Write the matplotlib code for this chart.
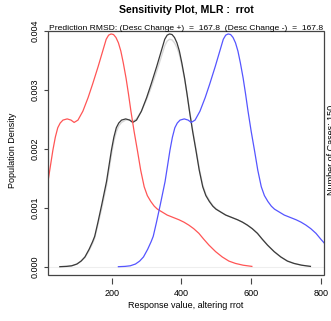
import matplotlib
matplotlib.use("Agg")
import matplotlib.pyplot as plt
from matplotlib.patches import Rectangle

plt.rcParams['font.family'] = ['Liberation Sans', 'DejaVu Sans']

# Response values (x) and population density for each curve
base_x = [51, 70, 85, 100, 112, 123, 135, 145, 151,
          160, 171, 185, 199, 206, 213, 220, 228, 240, 251, 260,
          271, 285, 300, 313, 329, 342, 352, 359, 366, 373,
          380, 387, 394, 401, 409, 416, 423, 432, 442, 451,
          461, 470, 480, 490, 499, 513, 527, 544, 561, 575,
          589, 603, 618, 632, 647, 666, 685, 704, 723, 745, 770]
base_y = [0.000005, 0.00001, 0.00002, 0.00005, 0.00010, 0.00017, 0.00030, 0.00043, 0.00052,
          0.00075, 0.00105, 0.00145, 0.00198, 0.00220, 0.00236, 0.00244, 0.00249, 0.00251, 0.00249, 0.00245,
          0.00249, 0.00264, 0.00287, 0.00310, 0.00340, 0.00366, 0.00386, 0.00393, 0.00395, 0.00394,
          0.00389, 0.00380, 0.00366, 0.00346, 0.00320, 0.00293, 0.00264, 0.00230, 0.00196, 0.00164,
          0.00136, 0.00121, 0.00111, 0.00103, 0.00098, 0.00093, 0.00088, 0.00084, 0.00080, 0.00076,
          0.00071, 0.00065, 0.00057, 0.00047, 0.00037, 0.00026, 0.00017, 0.00010, 0.00006, 0.00003, 0.00001]

orig_x = base_x
orig_y = [0.000005, 0.00001, 0.00002, 0.00005, 0.00010, 0.00016, 0.00028, 0.00040, 0.00049,
          0.00071, 0.00099, 0.00138, 0.00190, 0.00213, 0.00229, 0.00239, 0.00245, 0.00249, 0.00250, 0.00247,
          0.00251, 0.00264, 0.00284, 0.00304, 0.00332, 0.00356, 0.00375, 0.00383, 0.00386, 0.00385,
          0.00380, 0.00372, 0.00360, 0.00342, 0.00318, 0.00293, 0.00266, 0.00233, 0.00199, 0.00167,
          0.00139, 0.00123, 0.00113, 0.00104, 0.00099, 0.00093, 0.00088, 0.00084, 0.00080, 0.00076,
          0.00071, 0.00065, 0.00057, 0.00047, 0.00037, 0.00026, 0.00017, 0.00010, 0.00006, 0.00003, 0.00001]

minus_x = [-117, -98, -83, -68, -56, -45, -33, -23, -17,
           -8, 3, 17, 31, 38, 45, 52, 60, 72, 83, 92,
           103, 117, 132, 145, 161, 174, 184, 191, 198, 205,
           212, 219, 226, 233, 241, 248, 255, 264, 274, 283,
           293, 302, 312, 322, 331, 345, 359, 376, 393, 407,
           421, 435, 450, 464, 479, 498, 517, 536, 555, 577, 602]
minus_y = base_y

plus_x = [219, 238, 253, 268, 280, 291, 303, 313, 319,
          328, 339, 353, 367, 374, 381, 388, 396, 408, 419, 428,
          439, 453, 468, 481, 497, 510, 520, 527, 534, 541,
          548, 555, 562, 569, 577, 584, 591, 600, 610, 619,
          629, 638, 648, 658, 667, 681, 695, 712, 729, 743,
          757, 771, 786, 800, 815, 834, 853, 872, 891, 913, 938]
plus_y = base_y

xticks = [200, 400, 600, 800]
yticks = [0.000, 0.001, 0.002, 0.003, 0.004]
ytick_labels = ["0.000", "0.001", "0.002", "0.003", "0.004"]

W, H = 331, 321
fig = plt.figure(figsize=(W / 100, H / 100), dpi=100)
ax = fig.add_axes([48 / W, 1 - 275 / H, (324 - 48) / W, (275 - 31) / H])

ax.axhline(0, color='#eeeeee', lw=0.8, zorder=1)
ax.plot(orig_x, orig_y, color='#d8d8d8', lw=1.0, zorder=2)
ax.plot(base_x, base_y, color='#3a3a3a', lw=0.9, zorder=3)
ax.plot(minus_x, minus_y, color='#ff5555', lw=0.9, zorder=3)
ax.plot(plus_x, plus_y, color='#5555ff', lw=0.9, zorder=3)

ax.set_xlim(17, 809)
ax.set_ylim(-0.000136, 0.004)

for s in ax.spines.values():
    s.set_visible(False)
ax.spines['bottom'].set_position(('outward', 2))
ax.add_patch(Rectangle((0, 0), 1, 1, transform=ax.transAxes, fill=False,
                       edgecolor='#444444', lw=0.9, clip_on=False, zorder=5))

ax.set_xticks(xticks)
ax.set_xticklabels([str(t) for t in xticks])
ax.set_yticks(yticks)
ax.set_yticklabels(ytick_labels, rotation=90, va='center')
ax.tick_params(axis='x', direction='out', length=4, width=0.8, color='#444444',
               labelsize=6.5, pad=4)
ax.tick_params(axis='y', direction='out', length=3, width=0.8, color='#444444',
               labelsize=6.5, pad=3)

fig.text(186 / W, 1 - 10 / H, "Sensitivity Plot, MLR :  rrot", ha='center', va='center',
         fontsize=7.6, fontweight='bold')
fig.text(186 / W, 1 - 30 / H,
         "Prediction RMSD: (Desc Change +)  =  167.8  (Desc Change -)  =  167.8",
         ha='center', va='baseline', fontsize=6.1)
fig.text(186 / W, 1 - 306 / H, "Response value, altering rrot", ha='center', va='center',
         fontsize=6.5)
fig.text(13 / W, 1 - 150 / H, "Population Density", ha='center', va='center',
         rotation=90, fontsize=6.5)
fig.text(327 / W, 1 - 150 / H, "Number of Cases: 150", ha='left', va='center',
         rotation=90, fontsize=6.5)

fig.savefig("out.png", dpi=100)
